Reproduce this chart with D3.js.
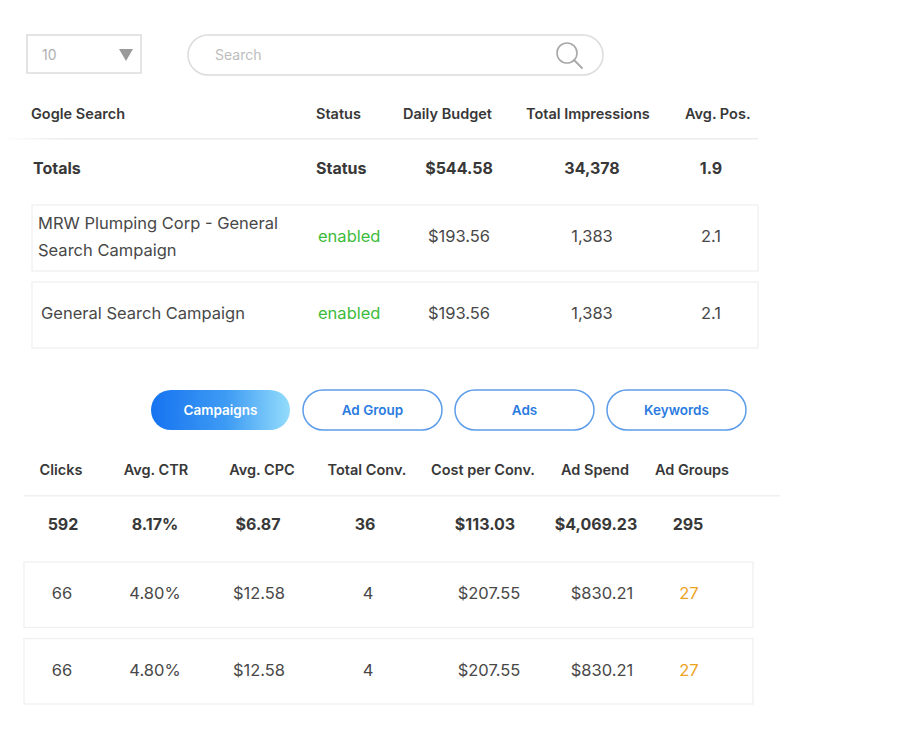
<!DOCTYPE html>
<html>
<head>
<meta charset="utf-8">
<script src="https://cdn.jsdelivr.net/npm/d3@7"></script>
<style>
    body { margin: 0; background: #fff; }
    text { font-family: Inter, "Noto Sans", sans-serif; }
</style>
</head>
<body>
<div id="table-area"></div>
<script>

// top table
const topColumns = ["Gogle Search", "Status", "Daily Budget", "Total Impressions", "Avg. Pos."];
const topTotals = ["Totals", "Status", "$544.58", "34,378", "1.9"];
const campaignNames = [["MRW Plumping Corp - General", "Search Campaign"], ["General Search Campaign"]];
const campaignStatus = ["enabled", "enabled"];
const dailyBudget = [193.56, 193.56];
const impressions = [1383, 1383];
const avgPos = [2.1, 2.1];

// tabs
const tabs = ["Campaigns", "Ad Group", "Ads", "Keywords"];

// bottom table
const metricColumns = ["Clicks", "Avg. CTR", "Avg. CPC", "Total Conv.", "Cost per Conv.", "Ad Spend", "Ad Groups"];
const metricTotals = ["592", "8.17%", "$6.87", "36", "$113.03", "$4,069.23", "295"];
const clicks = [66, 66];
const avgCtr = [4.80, 4.80];
const avgCpc = [12.58, 12.58];
const totalConv = [4, 4];
const costPerConv = [207.55, 207.55];
const adSpend = [830.21, 830.21];
const adGroups = [27, 27];

const width = 922, height = 741;
const dark = "#383838", mid = "#484848", line = "#efefef";

const money = d3.format("$,.2f");
const comma = d3.format(",");
const pct = d => d3.format(".2f")(d) + "%";

const svg = d3.select("#table-area").append("svg")
    .attr("width", width)
    .attr("height", height);

svg.append("rect").attr("width", width).attr("height", height).attr("fill", "#fff");

// gradient for active tab
const defs = svg.append("defs");
const grad = defs.append("linearGradient").attr("id", "tabGrad");
grad.append("stop").attr("offset", "0%").attr("stop-color", "#1673f0");
grad.append("stop").attr("offset", "55%").attr("stop-color", "#3f9cf4");
grad.append("stop").attr("offset", "100%").attr("stop-color", "#93dcfb");

const fade = defs.append("linearGradient").attr("id", "lineFade");
fade.append("stop").attr("offset", "0%").attr("stop-color", "#fff");
fade.append("stop").attr("offset", "8%").attr("stop-color", "#ececec");
fade.append("stop").attr("offset", "100%").attr("stop-color", "#ececec");

// ---- controls ----
svg.append("rect")
    .attr("x", 27).attr("y", 35).attr("width", 114).attr("height", 38)
    .attr("fill", "#fff").attr("stroke", "#dcdcdc").attr("stroke-width", 1.5);
svg.append("text").attr("x", 42).attr("y", 55).attr("dy", "0.35em")
    .attr("font-size", 14).attr("fill", "#b0b0b0").text("10");
svg.append("path")
    .attr("d", "M119,49 L133,49 L126,61 Z")
    .attr("fill", "#9a9a9a");

svg.append("rect")
    .attr("x", 188).attr("y", 35).attr("width", 415).attr("height", 40).attr("rx", 20)
    .attr("fill", "#fff").attr("stroke", "#dcdcdc").attr("stroke-width", 1.5);
svg.append("text").attr("x", 215).attr("y", 55).attr("dy", "0.35em")
    .attr("font-size", 14).attr("fill", "#bdbdbd").text("Search");
svg.append("circle").attr("cx", 567).attr("cy", 53).attr("r", 10)
    .attr("fill", "none").attr("stroke", "#a8a8a8").attr("stroke-width", 1.6);
svg.append("line").attr("x1", 574).attr("y1", 60).attr("x2", 582).attr("y2", 68)
    .attr("stroke", "#a8a8a8").attr("stroke-width", 1.8).attr("stroke-linecap", "round");

// ---- top table ----
const topHeadX = d3.scaleOrdinal().domain(topColumns).range([31, 316, 403, 526, 685]);
const topValX = d3.scaleOrdinal().domain(topColumns).range([33, 316, 459, 592, 711]);
const topAnchor = d3.scaleOrdinal().domain(topColumns).range(["start", "start", "middle", "middle", "middle"]);

svg.append("g").attr("class", "top-head").selectAll("text")
    .data(topColumns)
    .enter()
    .append("text")
    .attr("x", d => topHeadX(d))
    .attr("y", 114)
    .attr("dy", "0.35em")
    .attr("font-size", 14.5)
    .attr("font-weight", 600)
    .attr("fill", dark)
    .text(d => d);

svg.append("rect").attr("x", 0).attr("y", 138).attr("width", 758).attr("height", 1.5)
    .attr("fill", "url(#lineFade)");

svg.append("g").selectAll("text")
    .data(topTotals)
    .enter()
    .append("text")
    .attr("x", (d, i) => topValX(topColumns[i]))
    .attr("y", 168)
    .attr("dy", "0.35em")
    .attr("text-anchor", (d, i) => topAnchor(topColumns[i]))
    .attr("font-size", 16)
    .attr("font-weight", 700)
    .attr("fill", dark)
    .text(d => d);

const topRowY = d3.scaleBand().domain(d3.range(campaignNames.length)).range([205, 348]).paddingInner(0.143);

const topRows = svg.append("g").selectAll("g")
    .data(campaignNames)
    .enter()
    .append("g")
    .attr("transform", (d, i) => `translate(0, ${topRowY(i)})`);

topRows.append("rect")
    .attr("x", 32).attr("width", 726).attr("height", topRowY.bandwidth())
    .attr("fill", "#fff").attr("stroke", line).attr("stroke-width", 1.2);

topRows.append("text")
    .attr("x", (d, i) => i === 0 ? 38 : 41)
    .attr("font-size", 16.5)
    .attr("fill", mid)
    .each(function(d) {
        const t = d3.select(this);
        const h = topRowY.bandwidth();
        d.forEach((s, k) => {
            t.append("tspan")
                .attr("x", t.attr("x"))
                .attr("y", h / 2 - 1.5 + (k - (d.length - 1) / 2) * 27)
                .attr("dy", "0.35em")
                .text(s);
        });
    });

const topCells = i => [campaignStatus[i], money(dailyBudget[i]), comma(impressions[i]), d3.format(".1f")(avgPos[i])];

topRows.selectAll("text.cell")
    .data((d, i) => topCells(i))
    .enter()
    .append("text")
    .attr("class", "cell")
    .attr("x", (d, j) => j === 0 ? 318 : topValX(topColumns[j + 1]))
    .attr("y", topRowY.bandwidth() / 2 - 1.5)
    .attr("dy", "0.35em")
    .attr("text-anchor", (d, j) => topAnchor(topColumns[j + 1]))
    .attr("font-size", 16.5)
    .attr("fill", (d, j) => j === 0 ? "#3dbb3a" : mid)
    .text(d => d);

// ---- tabs ----
const tabX = d3.scaleBand().domain(tabs).range([151, 746]).paddingInner(0.0855);

const tabG = svg.append("g").selectAll("g")
    .data(tabs)
    .enter()
    .append("g")
    .attr("transform", d => `translate(${tabX(d)}, 390)`);

tabG.append("rect")
    .attr("width", tabX.bandwidth())
    .attr("height", 40)
    .attr("rx", 20)
    .attr("fill", (d, i) => i === 0 ? "url(#tabGrad)" : "#fff")
    .attr("stroke", (d, i) => i === 0 ? "none" : "#5d9ce9")
    .attr("stroke-width", 1.5);

tabG.append("text")
    .attr("x", tabX.bandwidth() / 2)
    .attr("y", 20)
    .attr("dy", "0.35em")
    .attr("text-anchor", "middle")
    .attr("font-size", 13.5)
    .attr("font-weight", 600)
    .attr("fill", (d, i) => i === 0 ? "#fff" : "#2a7be0")
    .text(d => d);

// ---- bottom table ----
const metricHeadX = d3.scaleOrdinal().domain(metricColumns).range([61, 156, 262, 367, 483, 595, 692]);
const metricTotX = d3.scaleOrdinal().domain(metricColumns).range([63, 155, 258, 365, 485, 596, 688]);
const metricValX = d3.scaleOrdinal().domain(metricColumns).range([62, 155, 259, 368, 489, 602, 689]);

svg.append("g").selectAll("text")
    .data(metricColumns)
    .enter()
    .append("text")
    .attr("x", d => metricHeadX(d))
    .attr("y", 470)
    .attr("dy", "0.35em")
    .attr("text-anchor", "middle")
    .attr("font-size", 14.5)
    .attr("font-weight", 600)
    .attr("fill", dark)
    .text(d => d);

svg.append("rect").attr("x", 24).attr("y", 495).attr("width", 756).attr("height", 1.5)
    .attr("fill", "#efefef");

svg.append("g").selectAll("text")
    .data(metricTotals)
    .enter()
    .append("text")
    .attr("x", (d, i) => metricTotX(metricColumns[i]))
    .attr("y", 524)
    .attr("dy", "0.35em")
    .attr("text-anchor", "middle")
    .attr("font-size", 16)
    .attr("font-weight", 700)
    .attr("fill", dark)
    .text(d => d);

const metricRowY = d3.scaleBand().domain(d3.range(clicks.length)).range([562, 704]).paddingInner(0.145);

const metricCells = i => [
    comma(clicks[i]), pct(avgCtr[i]), money(avgCpc[i]), comma(totalConv[i]),
    money(costPerConv[i]), money(adSpend[i]), comma(adGroups[i])
];

const metricRows = svg.append("g").selectAll("g")
    .data(d3.range(clicks.length))
    .enter()
    .append("g")
    .attr("transform", i => `translate(0, ${metricRowY(i)})`);

metricRows.append("rect")
    .attr("x", 24).attr("width", 729).attr("height", metricRowY.bandwidth())
    .attr("fill", "#fff").attr("stroke", line).attr("stroke-width", 1.2);

metricRows.selectAll("text")
    .data(i => metricCells(i))
    .enter()
    .append("text")
    .attr("x", (d, j) => metricValX(metricColumns[j]))
    .attr("y", metricRowY.bandwidth() / 2 - 1.5)
    .attr("dy", "0.35em")
    .attr("text-anchor", "middle")
    .attr("font-size", 16.5)
    .attr("fill", (d, j) => j === 6 ? "#eea21c" : mid)
    .text(d => d);

</script>
</body>
</html>
